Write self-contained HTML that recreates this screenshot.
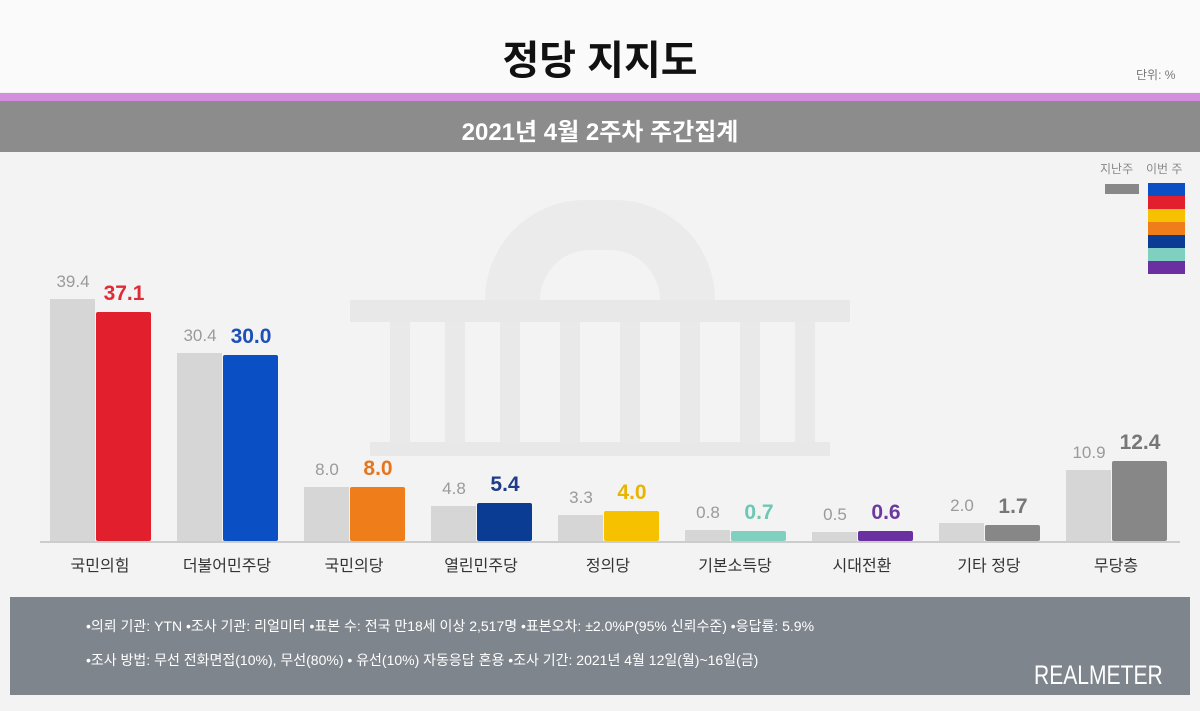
<!DOCTYPE html>
<html><head><meta charset="utf-8"><style>
body{margin:0;width:1200px;height:711px;overflow:hidden;background:#f3f3f3;font-family:"Liberation Sans","Noto Sans CJK KR",sans-serif;position:relative}
.a{position:absolute}
.g{position:absolute;background:#d6d6d6}
.c{position:absolute;border-radius:2px}
.v{position:absolute;width:80px;text-align:center;font-size:17px;color:#9a9a9a}
.w{position:absolute;width:90px;text-align:center;font-size:21px;font-weight:bold}
.l{position:absolute;width:140px;text-align:center;font-size:16px;color:#333;top:552px}
.col{position:absolute;top:322px;width:20px;height:120px;background:#e9e9e9}
</style></head><body>
<div class="a" style="left:0;top:0;width:1200px;height:92px;background:#fafafa"></div>
<div class="a" style="left:0;top:28px;width:1200px;text-align:center;font-size:40px;font-weight:bold;color:#111">정당 지지도</div>
<div class="a" style="left:1136px;top:66px;font-size:12px;color:#777">단위: %</div>
<div class="a" style="left:0;top:93px;width:1200px;height:8px;background:#d48ee0"></div>
<div class="a" style="left:0;top:101px;width:1200px;height:51px;background:#8c8c8c"></div>
<div class="a" style="left:0;top:112px;width:1200px;text-align:center;font-size:24px;font-weight:bold;color:#fff">2021년 4월 2주차 주간집계</div>
<div class="a" style="left:485px;top:200px;width:230px;height:100px;border-radius:115px 115px 0 0;background:#ebebeb"></div>
<div class="a" style="left:540px;top:250px;width:120px;height:50px;border-radius:60px 60px 0 0;background:#f3f3f3"></div>
<div class="a" style="left:350px;top:300px;width:500px;height:22px;background:#e8e8e8"></div>
<div class="col" style="left:390px"></div><div class="col" style="left:445px"></div><div class="col" style="left:500px"></div><div class="col" style="left:560px"></div><div class="col" style="left:620px"></div><div class="col" style="left:680px"></div><div class="col" style="left:740px"></div><div class="col" style="left:795px"></div>
<div class="a" style="left:370px;top:442px;width:460px;height:14px;background:#e8e8e8"></div>
<div class="a" style="left:1100px;top:160px;font-size:12px;color:#888">지난주</div>
<div class="a" style="left:1146px;top:160px;font-size:12px;color:#888">이번 주</div>
<div class="a" style="left:1105px;top:184px;width:34px;height:10px;background:#888"></div>
<div class="a" style="left:1148px;top:183px;width:37px">
<div style="height:13px;background:#0a4fc4"></div><div style="height:13px;background:#e21f2c"></div><div style="height:13px;background:#f6c200"></div><div style="height:13px;background:#ef7d1a"></div><div style="height:13px;background:#0b3c93"></div><div style="height:13px;background:#7fd0bf"></div><div style="height:13px;background:#6a2fa0"></div></div>
<div class="a" style="left:40px;top:541px;width:1140px;height:2px;background:#ccc"></div>
<div id="ch"></div>
<div class="a" style="left:10px;top:597px;width:1180px;height:98px;background:#7f858c"></div>
<div class="a" style="left:86px;top:616px;font-size:14px;color:#fff">•의뢰 기관: YTN •조사 기관: 리얼미터 •표본 수: 전국 만18세 이상 2,517명 •표본오차: ±2.0%P(95% 신뢰수준) •응답률: 5.9%</div>
<div class="a" style="left:86px;top:650px;font-size:14px;color:#fff">•조사 방법: 무선 전화면접(10%), 무선(80%) • 유선(10%) 자동응답 혼용 •조사 기간: 2021년 4월 12일(월)~16일(금)</div>
<div class="a" style="left:1034px;top:660px;font-size:27px;color:#fff;transform:scaleX(0.78);transform-origin:0 0;letter-spacing:0">REALMETER</div>
<script>
var d=[["국민의힘",39.4,37.1,"#e21f2c","#e02a35"],["더불어민주당",30.4,30.0,"#0a4fc4","#1d4fb8"],["국민의당",8.0,8.0,"#ef7d1a","#e6761e"],["열린민주당",4.8,5.4,"#0b3c93","#1f3c88"],["정의당",3.3,4.0,"#f6c200","#e8b400"],["기본소득당",0.8,0.7,"#7fd0bf","#6cc8b3"],["시대전환",0.5,0.6,"#6a2fa0","#6b3aa0"],["기타 정당",2.0,1.7,"#878787","#777"],["무당층",10.9,12.4,"#878787","#777"]];
var h="";
d.forEach(function(r,i){var c=96+127*i;var h1=6+r[1]*6,h2=6+r[2]*6;
h+='<div class="g" style="left:'+(c-46)+'px;top:'+(541-h1)+'px;width:45px;height:'+h1+'px"></div>';
h+='<div class="c" style="left:'+c+'px;top:'+(541-h2)+'px;width:55px;height:'+h2+'px;background:'+r[3]+'"></div>';
h+='<div class="v" style="left:'+(c-63)+'px;top:'+(541-h1-27)+'px">'+r[1].toFixed(1)+'</div>';
h+='<div class="w" style="left:'+(c-17)+'px;top:'+(541-h2-30)+'px;color:'+r[4]+'">'+r[2].toFixed(1)+'</div>';
h+='<div class="l" style="left:'+(c-66)+'px">'+r[0]+'</div>';});
document.getElementById("ch").innerHTML=h;
</script>
</body></html>
